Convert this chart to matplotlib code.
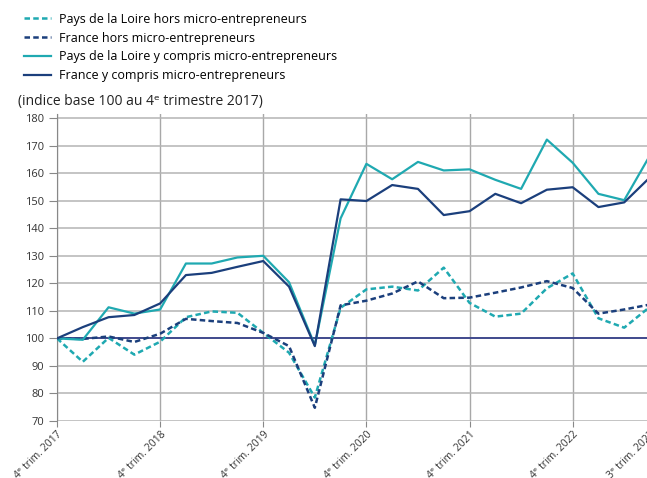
import matplotlib
matplotlib.use("Agg")
import matplotlib.pyplot as plt

plt.rcParams['font.family'] = ['Open Sans', 'DejaVu Sans']

# trimestres du 4e trim. 2017 au 3e trim. 2023
trimestres = list(range(24))
pdl_hors = [100, 91.5, 100.2, 94.1, 98.8, 107.7, 109.8, 109.3, 102.0, 94.8, 78.5,
            111.1, 117.8, 118.8, 117.4, 125.7, 112.9, 107.9, 109.0, 118.2, 123.6,
            107.3, 103.9, 111.5]
fr_hors = [100, 99.8, 100.7, 98.7, 101.7, 107.1, 106.3, 105.6, 102.0, 97.2, 74.8,
           112.0, 113.7, 116.3, 120.7, 114.6, 114.8, 116.6, 118.5, 120.8, 118.3,
           109.0, 110.5, 112.3]
pdl_yc = [100, 99.5, 111.3, 109.0, 110.5, 127.2, 127.2, 129.4, 130.0, 120.4, 97.5,
          143.6, 163.4, 157.8, 164.1, 161.0, 161.4, 157.6, 154.3, 172.2, 163.8,
          152.5, 150.2, 166.5]
fr_yc = [100, 104.1, 107.7, 108.5, 112.7, 123.0, 123.8, 126.0, 128.1, 118.8, 97.2,
         150.5, 149.9, 155.7, 154.3, 144.8, 146.2, 152.5, 149.1, 154.0, 154.9,
         147.7, 149.4, 158.5]

tick_pos = [0, 4, 8, 12, 16, 20, 23]
tick_labels = ["4ᵉ trim. 2017", "4ᵉ trim. 2018", "4ᵉ trim. 2019", "4ᵉ trim. 2020",
               "4ᵉ trim. 2021", "4ᵉ trim. 2022", "3ᵉ trim. 2023"]

teal = "#1fa9b1"
navy = "#1b3f7c"

fig = plt.figure(figsize=(6.47, 4.78), dpi=100)
ax = fig.add_axes([57 / 647, 57 / 478, 593 / 647, 307 / 478])

ax.plot(trimestres, pdl_hors, color=teal, lw=1.8, dashes=(2.2, 1.3),
        label="Pays de la Loire hors micro-entrepreneurs", zorder=3)
ax.plot(trimestres, fr_hors, color=navy, lw=1.8, dashes=(2.2, 1.3),
        label="France hors micro-entrepreneurs", zorder=3)
ax.plot(trimestres, pdl_yc, color=teal, lw=1.6,
        label="Pays de la Loire y compris micro-entrepreneurs", zorder=3)
ax.plot(trimestres, fr_yc, color=navy, lw=1.6,
        label="France y compris micro-entrepreneurs", zorder=3)
ax.axhline(100, color="#2b3585", lw=1.2, zorder=2)

ax.set_xlim(0, 23)
ax.set_ylim(70, 181.5)
ax.set_yticks(range(70, 181, 10))
ax.set_xticks(tick_pos)
ax.set_xticklabels(tick_labels, rotation=45, ha="right", rotation_mode="anchor",
                   fontsize=7.5, color="#333333")
ax.tick_params(axis="y", labelsize=8, colors="#333333", length=6, pad=3,
               color="#888888")
ax.tick_params(axis="x", length=4, color="#888888", pad=2)
ax.grid(True, color="#b4b4b4", lw=1.1, zorder=0)
ax.grid(axis="x", color="#a8a8a8", lw=1.0)
for s in ["top", "right", "bottom"]:
    ax.spines[s].set_visible(False)
ax.spines["left"].set_color("#888888")

fig.text(18 / 647, 1 - 102 / 478, "(indice base 100 au 4ᵉ trimestre 2017)",
         fontsize=10, va="center", color="#222222")

fig.legend(loc="upper left", bbox_to_anchor=(0.019, 0.997), frameon=False,
           fontsize=9, handlelength=2.2, labelspacing=0.47, handletextpad=0.6)

fig.savefig("out.png", dpi=100)
